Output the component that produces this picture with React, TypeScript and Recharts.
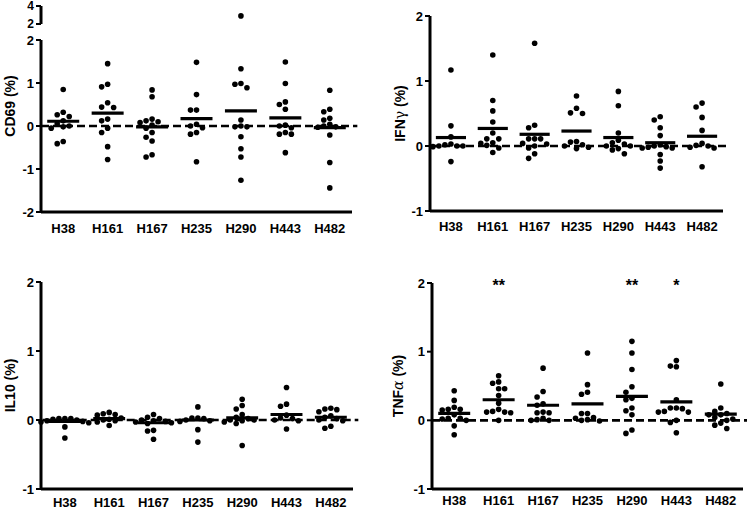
import React from "react";
import { ScatterChart, Scatter, XAxis, YAxis, ReferenceLine, Label } from "recharts";

const strains = ["H38", "H161", "H167", "H235", "H290", "H443", "H482"];

const cd69 = [
  [0.85, 0.32, 0.26, 0.22, 0.12, 0.05, 0.0, -0.02, -0.05, -0.36, -0.41],
  [1.45, 0.97, 0.91, 0.54, 0.44, 0.43, 0.16, 0.12, -0.05, -0.15, -0.48, -0.78],
  [0.84, 0.68, 0.16, 0.12, 0.1, 0.08, 0.02, -0.05, -0.15, -0.26, -0.35, -0.67, -0.72],
  [1.48, 0.73, 0.37, 0.37, 0.04, 0.0, -0.04, -0.15, -0.19, -0.83],
  [2.9, 1.33, 0.99, 0.97, 0.89, 0.14, 0.0, -0.02, -0.02, -0.25, -0.53, -0.72, -1.26],
  [1.49, 0.99, 0.56, 0.5, 0.39, 0.02, 0.0, -0.04, -0.15, -0.19, -0.19, -0.62],
  [0.83, 0.39, 0.33, 0.18, 0.14, 0.04, 0.0, -0.02, -0.03, -0.21, -0.85, -1.44],
];
const cd69Mean = [0.11, 0.3, -0.02, 0.17, 0.35, 0.19, -0.04];

const ifng = [
  [1.17, 0.31, 0.14, 0.03, 0.02, 0.0, 0.0, 0.0, -0.01, -0.24],
  [1.4, 0.7, 0.54, 0.37, 0.2, 0.11, 0.11, 0.05, 0.04, 0.01, -0.03, -0.1],
  [1.58, 0.32, 0.28, 0.11, 0.11, 0.11, 0.04, 0.03, 0.0, -0.03, -0.12, -0.19],
  [0.77, 0.58, 0.51, 0.5, 0.07, 0.06, 0.02, 0.0, -0.02, -0.04],
  [0.84, 0.62, 0.2, 0.09, 0.05, 0.03, 0.0, 0.0, -0.04, -0.06, -0.12],
  [0.45, 0.4, 0.28, 0.16, 0.02, 0.0, -0.01, -0.02, -0.03, -0.03, -0.13, -0.23, -0.34],
  [0.66, 0.6, 0.44, 0.24, 0.04, 0.01, 0.0, -0.02, -0.03, -0.32],
];
const ifngMean = [0.13, 0.27, 0.18, 0.23, 0.13, 0.05, 0.15];

const il10 = [
  [0.02, 0.02, 0.02, 0.01, 0.0, -0.01, -0.02, -0.03, -0.04, -0.1, -0.26],
  [0.11, 0.09, 0.08, 0.07, 0.03, 0.01, 0.0, -0.01, -0.03, -0.08],
  [0.08, 0.04, 0.02, 0.0, -0.01, -0.02, -0.03, -0.04, -0.05, -0.15, -0.16, -0.28],
  [0.19, 0.03, 0.03, 0.02, 0.0, -0.01, -0.02, -0.14, -0.32],
  [0.3, 0.21, 0.16, 0.08, 0.04, 0.02, 0.0, 0.0, -0.01, -0.03, -0.05, -0.37],
  [0.47, 0.23, 0.2, 0.07, 0.03, 0.02, 0.0, -0.01, -0.13],
  [0.17, 0.16, 0.15, 0.12, 0.06, 0.04, 0.02, 0.0, -0.01, -0.09, -0.12],
];
const il10Mean = [-0.02, 0.02, -0.04, 0.0, 0.03, 0.08, 0.04];

const tnfa = [
  [0.43, 0.29, 0.19, 0.16, 0.16, 0.15, 0.08, 0.03, 0.03, 0.02, 0.0, -0.08, -0.21],
  [0.65, 0.56, 0.54, 0.46, 0.46, 0.36, 0.25, 0.16, 0.13, 0.12, 0.12, 0.11, 0.0],
  [0.76, 0.42, 0.34, 0.24, 0.22, 0.12, 0.11, 0.11, 0.03, 0.01, 0.0, 0.0],
  [0.98, 0.52, 0.41, 0.38, 0.1, 0.1, 0.04, 0.03, 0.01, 0.0, -0.01],
  [1.15, 0.98, 0.74, 0.49, 0.41, 0.32, 0.3, 0.18, 0.14, 0.08, -0.14, -0.19],
  [0.87, 0.79, 0.78, 0.3, 0.18, 0.18, 0.17, 0.13, 0.12, 0.12, 0.0, -0.03, -0.18],
  [0.53, 0.18, 0.13, 0.1, 0.08, 0.08, 0.04, 0.02, 0.0, -0.04, -0.07, -0.12],
];
const tnfaMean = [0.1, 0.3, 0.22, 0.24, 0.35, 0.27, 0.09];
const tnfaSig = ["", "**", "", "", "**", "*", ""];

const FONT = "'Liberation Sans', Arial, sans-serif";
const catTicks = strains.map((_, i) => i);

// spread points sideways so they don't overlap (simple beeswarm)
const swarm = (groups: number[][], pxPerUnit: number, pxPerCat: number, gap = 6) =>
  groups.flatMap((vals, i) => {
    const placed: { dx: number; py: number }[] = [];
    return [...vals]
      .sort((a, b) => b - a)
      .map((v) => {
        const py = v * pxPerUnit;
        let dx = 0;
        for (let k = 0; k < 30; k++) {
          const cand = k === 0 ? 0 : (k % 2 ? -1 : 1) * Math.ceil(k / 2) * gap;
          if (placed.every((p) => Math.hypot(p.dx - cand, p.py - py) >= gap)) {
            dx = cand;
            break;
          }
        }
        placed.push({ dx, py });
        return { x: i + dx / pxPerCat, y: v };
      });
  });

const Dot = (p: any) => <circle cx={p.cx} cy={p.cy} r={2.8} fill="#000" />;

const Stars = (p: any) => (
  <text x={p.cx} y={p.cy + 8} textAnchor="middle" fontSize={16} fontWeight="bold" fontFamily={FONT} fill="#000">
    {p.payload.sig}
  </text>
);

const AxisTitle = ({ viewBox, title, tx, shift }: any) => {
  const cy = viewBox.y + viewBox.height / 2 + shift;
  return (
    <text
      x={tx}
      y={cy}
      transform={`rotate(-90 ${tx} ${cy})`}
      textAnchor="middle"
      dominantBaseline="central"
      fontSize={14}
      fontWeight="bold"
      fontFamily={FONT}
      fill="#000"
    >
      {title}
    </text>
  );
};

type PanelProps = {
  left: number;
  top: number;
  width: number;
  height: number;
  margin: { top: number; right: number; bottom: number; left: number };
  yWidth: number;
  xHeight: number;
  xTickSize: number;
  domain: [number, number];
  yTicks: number[];
  groups: number[][];
  means: number[];
  title: React.ReactNode;
  titleX: number;
  titleShift?: number;
  sig?: string[];
};

const Panel = (p: PanelProps) => {
  const plotW = p.width - p.margin.left - p.margin.right - p.yWidth;
  const plotH = p.height - p.margin.top - p.margin.bottom - p.xHeight;
  const pxPerUnit = plotH / (p.domain[1] - p.domain[0]);
  const pts = swarm(p.groups, pxPerUnit, plotW / 7).filter((d) => d.y <= p.domain[1]);
  const sigData = (p.sig || [])
    .map((s, i) => ({ x: i, y: p.domain[1], sig: s }))
    .filter((d) => d.sig);
  return (
    <div style={{ position: "absolute", left: p.left, top: p.top }}>
      <ScatterChart width={p.width} height={p.height} margin={p.margin}>
        <XAxis
          type="number"
          dataKey="x"
          domain={[-0.5, 6.5]}
          ticks={catTicks}
          interval={0}
          tickFormatter={(i: number) => strains[i]}
          height={p.xHeight}
          tickLine={false}
          tickSize={p.xTickSize}
          axisLine={{ stroke: "#000", strokeWidth: 3 }}
          tick={{ fill: "#000", fontSize: 13, fontWeight: "bold", fontFamily: FONT }}
        />
        <YAxis
          type="number"
          dataKey="y"
          domain={p.domain}
          ticks={p.yTicks}
          interval={0}
          width={p.yWidth}
          tickSize={5}
          tickMargin={2}
          axisLine={{ stroke: "#000", strokeWidth: 3 }}
          tickLine={{ stroke: "#000", strokeWidth: 2 }}
          tick={{ fill: "#000", fontSize: 13, fontWeight: "bold", fontFamily: FONT }}
        >
          <Label
            content={(lp: any) => (
              <AxisTitle {...lp} title={p.title} tx={p.titleX} shift={p.titleShift || 0} />
            )}
          />
        </YAxis>
        <ReferenceLine
          segment={[{ x: -0.5, y: 0 }, { x: 6.62, y: 0 }]}
          ifOverflow="visible"
          stroke="#000"
          strokeWidth={2.6}
          strokeDasharray="8 4"
        />
        <Scatter data={pts} shape={Dot} isAnimationActive={false} />
        {p.means.map((m, i) => (
          <ReferenceLine
            key={strains[i]}
            segment={[{ x: i - 0.36, y: m }, { x: i + 0.36, y: m }]}
            ifOverflow="visible"
            stroke="#000"
            strokeWidth={3.2}
          />
        ))}
        {sigData.length > 0 && <Scatter data={sigData} shape={Stars} isAnimationActive={false} />}
      </ScatterChart>
    </div>
  );
};

// small top segment of the broken CD69 axis (2 to 4)
const BreakSegment = () => {
  const margin = { top: 6, right: 18, bottom: 12, left: 0 };
  const plotW = 370 - 41 - margin.right;
  const plotH = 36 - margin.top - margin.bottom;
  const pts = swarm(cd69, plotH / 2, plotW / 7).filter((d) => d.y > 2);
  return (
    <div style={{ position: "absolute", left: 0, top: 0 }}>
      <ScatterChart width={370} height={36} margin={margin}>
        <XAxis type="number" dataKey="x" domain={[-0.5, 6.5]} hide />
        <YAxis
          type="number"
          dataKey="y"
          domain={[2, 4]}
          ticks={[2, 4]}
          interval={0}
          width={41}
          tickSize={5}
          tickMargin={2}
          axisLine={{ stroke: "#000", strokeWidth: 3 }}
          tickLine={{ stroke: "#000", strokeWidth: 2 }}
          tick={{ fill: "#000", fontSize: 12, fontWeight: "bold", fontFamily: FONT }}
        />
        <Scatter data={pts} shape={Dot} isAnimationActive={false} />
      </ScatterChart>
    </div>
  );
};

const Greek = ({ ch, italic }: { ch: string; italic?: boolean }) => (
  <tspan fontWeight="normal" fontFamily="'DejaVu Serif', serif" fontStyle={italic ? "italic" : "normal"}>
    {ch}
  </tspan>
);

export default function App() {
  return (
    <div style={{ position: "absolute", left: 0, top: 0, width: 747, height: 509, background: "#fff" }}>
      <Panel
        left={0}
        top={0}
        width={370}
        height={250}
        margin={{ top: 40, right: 18, bottom: 8, left: 0 }}
        yWidth={41}
        xHeight={30}
        xTickSize={9.5}
        domain={[-2, 2]}
        yTicks={[-2, -1, 0, 1, 2]}
        groups={cd69}
        means={cd69Mean}
        title="CD69 (%)"
        titleX={10}
        titleShift={-20}
      />
      <BreakSegment />
      <Panel
        left={370}
        top={0}
        width={377}
        height={250}
        margin={{ top: 16, right: 24, bottom: 9, left: 0 }}
        yWidth={60}
        xHeight={30}
        xTickSize={8.5}
        domain={[-1, 2]}
        yTicks={[-1, 0, 1, 2]}
        groups={ifng}
        means={ifngMean}
        title={
          <>
            IFN
            <Greek ch="γ" /> (%)
          </>
        }
        titleX={30}
      />
      <Panel
        left={0}
        top={250}
        width={370}
        height={259}
        margin={{ top: 32, right: 17, bottom: 0, left: 0 }}
        yWidth={41}
        xHeight={20}
        xTickSize={6.5}
        domain={[-1, 2]}
        yTicks={[-1, 0, 1, 2]}
        groups={il10}
        means={il10Mean}
        title="IL10 (%)"
        titleX={10}
      />
      <Panel
        left={370}
        top={250}
        width={377}
        height={259}
        margin={{ top: 33, right: 4, bottom: 0, left: 0 }}
        yWidth={62}
        xHeight={20}
        xTickSize={5}
        domain={[-1, 2]}
        yTicks={[-1, 0, 1, 2]}
        groups={tnfa}
        means={tnfaMean}
        sig={tnfaSig}
        title={
          <>
            TNF
            <Greek ch="α" italic /> (%)
          </>
        }
        titleX={28}
      />
    </div>
  );
}
